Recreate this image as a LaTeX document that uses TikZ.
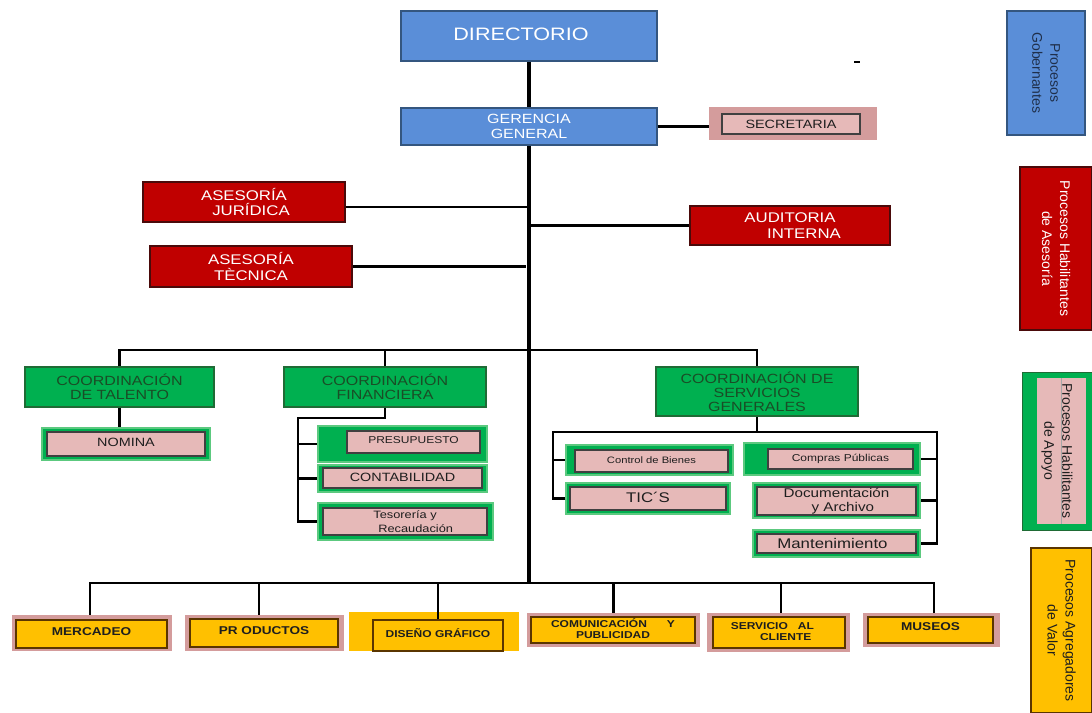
\documentclass[tikz,border=0pt]{standalone}
\usepackage{fontspec}
\setmainfont{Liberation Sans}[FakeStretch=1.2]
\newfontfamily\legfont{Liberation Sans}
\definecolor{blu}{HTML}{5A8ED8}
\definecolor{bluedge}{HTML}{34567F}
\definecolor{legtxt}{HTML}{1F2F4A}
\definecolor{redf}{HTML}{C00000}
\definecolor{rededge}{HTML}{4A0A0A}
\definecolor{grn}{HTML}{00B050}
\definecolor{grnedge}{HTML}{1F6B35}
\definecolor{grnlite}{HTML}{5CC97F}
\definecolor{grntxt}{HTML}{1A4D26}
\definecolor{pinkin}{HTML}{E6B9B8}
\definecolor{pinkout}{HTML}{D49C9C}
\definecolor{yel}{HTML}{FFC000}
\definecolor{yeledge}{HTML}{5A3500}
\definecolor{txtdark}{HTML}{1E1E1E}
\begin{document}
\begin{tikzpicture}[x=0.75pt,y=-0.75pt,
  every node/.style={inner sep=0pt, align=center},
  rect/.style n args={4}{at={({(#1+#3)/2},{(#2+#4)/2})}, minimum width={(#3-#1)*0.75pt}, minimum height={(#4-#2)*0.75pt}},
  bluebox/.style={fill=blu, draw=bluedge, line width=0.9pt, text=white},
  redbox/.style={fill=redf, draw=rededge, line width=1.1pt, text=white, font=\fontsize{10.5}{11.5}\selectfont},
  coordbox/.style={fill=grn, draw=grnedge, line width=0.9pt, text=grntxt, font=\fontsize{10}{10.5}\selectfont},
  grnframe/.style={fill=grn, draw=grnlite, line width=1pt},
  pinkbox/.style={fill=pinkin, draw=black!75, line width=0.8pt, text=txtdark},
  rosyframe/.style={fill=pinkout},
  yelframe/.style={fill=yel},
  yelbox/.style={fill=yel, draw=yeledge, line width=0.9pt, text=txtdark, font=\fontsize{7.5}{8.5}\selectfont\bfseries},
  bigyel/.style={font=\fontsize{8.5}{9.5}\selectfont\bfseries},
  legbox/.style={rotate=-90, font=\legfont\fontsize{10.5}{13.5}\selectfont},
  conn/.style={draw=black, line width=1.6pt},
  trunk/.style={draw=black, line width=2.4pt},
]
\useasboundingbox (0,0) rectangle (1092,713);

% governing
\node[bluebox, rect={401}{11}{657}{61}, font=\fontsize{13.5}{14}\selectfont] (dir) {\raisebox{3pt}{DIRECTORIO}\hspace*{12pt}};
\node[bluebox, rect={401}{108}{657}{145}, font=\fontsize{10}{11}\selectfont] (ger) {GERENCIA\\GENERAL};
\node[rosyframe, rect={709}{107}{877}{140}] (secO) {};
\node[pinkbox, rect={722}{114}{860}{134}, font=\fontsize{9}{9.5}\selectfont] (sec) {SECRETARIA};
\draw[line width=1pt] (854,62) -- (860,62);

% advisory
\node[redbox, rect={143}{182}{345}{222}] (jur) {ASESORÍA\\\quad JURÍDICA};
\node[redbox, rect={690}{206}{890}{245}] (aud) {AUDITORIA\\\qquad INTERNA};
\node[redbox, rect={150}{246}{352}{287}] (tec) {ASESORÍA\\TÈCNICA};

% coordinations
\node[coordbox, rect={25}{367}{214}{407}] (tal) {COORDINACIÓN\\DE TALENTO};
\node[coordbox, rect={284}{367}{486}{407}] (fin) {COORDINACIÓN\\FINANCIERA};
\node[coordbox, rect={656}{367}{858}{416}] (ser) {COORDINACIÓN DE\\SERVICIOS\\GENERALES};

% talento
\node[grnframe, rect={42}{428}{210}{460}] (nomO) {};
\node[pinkbox, rect={47}{432}{205}{456}, font=\fontsize{9}{10}\selectfont] (nom) {\raisebox{2pt}{NOMINA}};

% financiera
\node[grnframe, rect={318}{426}{487}{462}] (preO) {};
\node[pinkbox, rect={347}{431}{480}{453}, font=\fontsize{7.5}{8}\selectfont] (pre) {\raisebox{3pt}{PRESUPUESTO}};
\node[grnframe, rect={318}{465}{487}{492}] (conO) {};
\node[pinkbox, rect={323}{468}{482}{488}, font=\fontsize{9}{10}\selectfont] (con) {\raisebox{1.5pt}{CONTABILIDAD}};
\node[grnframe, rect={318}{503}{493}{540}] (tesO) {};
\node[pinkbox, rect={323}{508}{487}{535}, font=\fontsize{8}{10}\selectfont] (tes) {Tesorería y\\\qquad Recaudación};

% servicios generales
\node[grnframe, rect={566}{445}{733}{475}] (cbO) {};
\node[pinkbox, rect={575}{450}{728}{472}, font=\fontsize{7}{8}\selectfont] (cb) {\raisebox{2pt}{Control de Bienes}};
\node[grnframe, rect={744}{443}{920}{475}] (cpO) {};
\node[pinkbox, rect={768}{449}{913}{469}, font=\fontsize{7.5}{8}\selectfont] (cp) {\raisebox{1.5pt}{Compras Públicas}};
\node[grnframe, rect={566}{483}{730}{514}] (ticO) {};
\node[pinkbox, rect={570}{487}{726}{510}, font=\fontsize{10.5}{11}\selectfont] (tic) {\raisebox{2pt}{TIC´S}};
\node[grnframe, rect={753}{483}{920}{518}] (docO) {};
\node[pinkbox, rect={757}{487}{916}{515}, font=\fontsize{9.5}{10.5}\selectfont] (doc) {Documentación\\\quad y Archivo};
\node[grnframe, rect={753}{530}{920}{557}] (manO) {};
\node[pinkbox, rect={757}{534}{916}{553}, font=\fontsize{10.5}{11}\selectfont] (man) {Mantenimiento\hspace*{6pt}};

% value-adding
\node[rosyframe, rect={12}{615}{172}{651}] (merO) {};
\node[yelbox, bigyel, rect={16}{620}{167}{648}] (mer) {\raisebox{3pt}{MERCADEO}};
\node[rosyframe, rect={185}{615}{344}{651}] (proO) {};
\node[yelbox, bigyel, rect={190}{619}{338}{647}] (pro) {\raisebox{3pt}{PR ODUCTOS}};
\node[yelframe, rect={349}{612}{519}{651}] (disO) {};
\node[yelbox, rect={373}{620}{503}{651}] (dis) {\raisebox{4pt}{DISEÑO GRÁFICO}};
\node[rosyframe, rect={527}{613}{700}{647}] (comO) {};
\node[yelbox, rect={531}{617}{695}{643}] (com) {\raisebox{2pt}{\shortstack{COMUNICACIÓN\quad\quad Y\\PUBLICIDAD}}};
\node[rosyframe, rect={707}{613}{850}{652}] (sacO) {};
\node[yelbox, rect={713}{617}{845}{648}] (sac) {\raisebox{2pt}{\shortstack{SERVICIO\quad AL\hspace*{10pt}\\\hspace*{10pt}CLIENTE}}};
\node[rosyframe, rect={863}{613}{1000}{647}] (musO) {};
\node[yelbox, bigyel, rect={868}{617}{993}{643}] (mus) {\raisebox{5pt}{MUSEOS}};

% connectors
\coordinate (cb1) at (529,350);
\coordinate (tb) at (529,583);
\coordinate (fl) at (298,418);
\coordinate (sl) at (553,432);
\coordinate (sr) at (937,432);
\draw[trunk] (dir.south) -- (ger.north);
\draw[trunk] (ger.south) -- (tb);
\draw[conn] (ger.east) -- (ger.east -| secO.west);
\draw[conn] ([yshift=-4pt]jur.east) -- ([yshift=-4pt]jur.east -| ger.south);
\draw[conn] (aud.west) -- (aud.west -| ger.south);
\draw[conn] (tec.east) -- ([xshift=-2pt]tec.east -| ger.south);
\draw[conn] (tal.north) |- (cb1) -| (ser.north);
\draw[conn] (fin.north) -- (fin.north |- cb1);
\draw[conn] (tal.south) -- (tal.south |- nomO.north);
\draw[conn] (fin.south) |- (fl) |- (tesO.west);
\draw[conn] (fl |- preO.west) -- (preO.west);
\draw[conn] (fl |- conO.west) -- (conO.west);
\draw[conn] (ser.south) -- (ser.south |- sl);
\draw[conn] (ticO.west) -| (sl) -- (sr) |- (manO.east);
\draw[conn] (sl |- cbO.west) -- (cbO.west);
\draw[conn] (sr |- cpO.east) -- (cpO.east);
\draw[conn] (sr |- docO.east) -- (docO.east);
\draw[conn] ([xshift=-1.5pt]merO.north) |- (tb) -| ([xshift=2pt]musO.north);
\draw[conn] ([xshift=-4pt]proO.north) -- ([xshift=-4pt]proO.north |- tb);
\draw[conn] (dis.north) -- (dis.north |- tb);
\draw[conn] (comO.north) -- (comO.north |- tb);
\draw[conn] ([xshift=2pt]sacO.north) -- ([xshift=2pt]sacO.north |- tb);

% legend
\node[legbox, fill=blu, draw=bluedge, line width=0.9pt, text=legtxt, minimum width=93pt, minimum height=58.5pt] (lg1) at (1046,73) {Procesos\\Gobernantes};
\node[legbox, fill=redf, draw=rededge, line width=0.9pt, text=white, minimum width=122.25pt, minimum height=54pt] (lg2) at (1056,248.5) {Procesos Habilitantes\\de Asesoría};
\node[legbox, fill=grn, draw=grnedge, line width=0.6pt, minimum width=118.5pt, minimum height=52.5pt] (lg3) at (1057,451) {};
\fill[pinkin] (1037,378) rectangle (1086,524);
\draw[black!35, line width=0.5pt] (1061,378) -- (1061,524);
\node[legbox, text=txtdark] (lg3t) at (lg3.center) {Procesos Habilitantes\\de Apoyo};
\node[legbox, fill=yel, draw=yeledge, line width=0.9pt, text=txtdark, minimum width=123.75pt, minimum height=45.75pt] (lg4) at (1061.5,630.5) {Procesos Agregadores\\de Valor};
\end{tikzpicture}
\end{document}
